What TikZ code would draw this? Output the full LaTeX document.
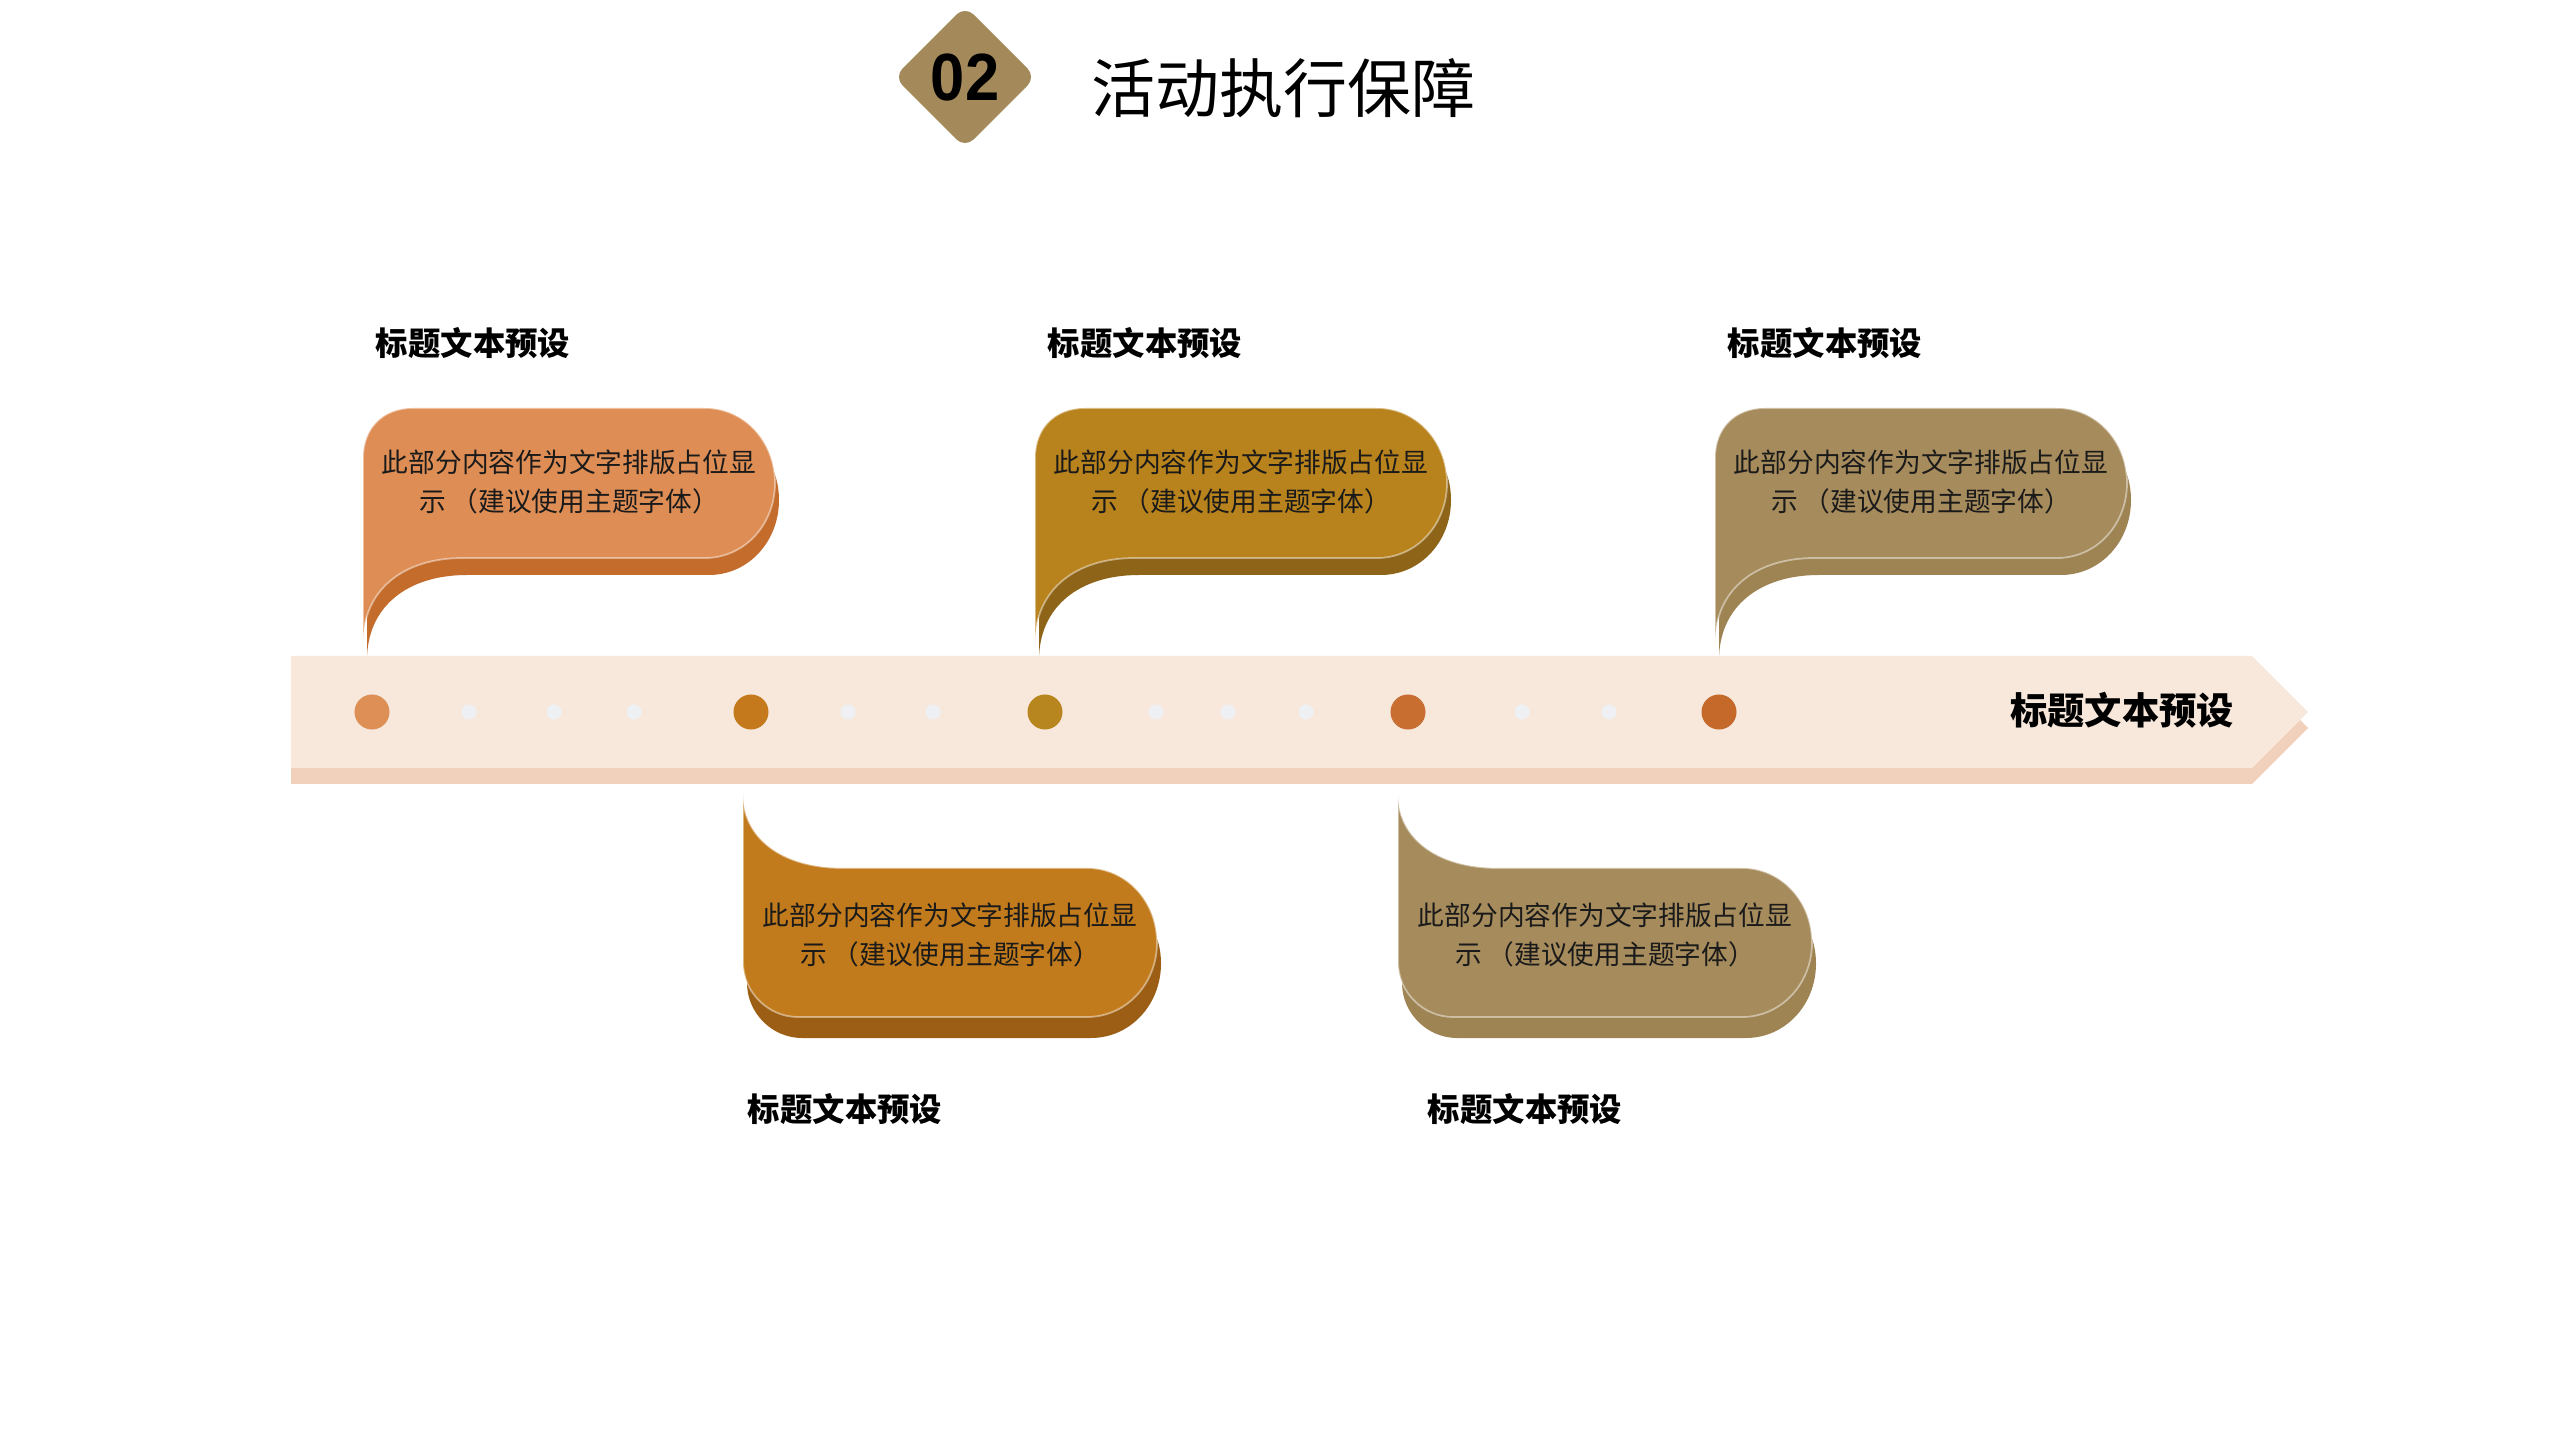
\documentclass[tikz,border=0pt]{standalone}
\usepackage{fontspec}
\newfontfamily\cjk{Noto Sans CJK SC}
\newfontfamily\latinb{Liberation Sans}
\definecolor{bandA}{HTML}{F8E8DC}
\definecolor{bandB}{HTML}{F1D1BB}
\definecolor{sdot}{HTML}{EEF0F3}
\definecolor{faceA}{HTML}{DE8E55}
\definecolor{sideA}{HTML}{C46C2C}
\definecolor{faceB}{HTML}{B8821C}
\definecolor{sideB}{HTML}{8E6418}
\definecolor{faceC}{HTML}{A68B5C}
\definecolor{sideC}{HTML}{9E8353}
\definecolor{faceD}{HTML}{C27B1C}
\definecolor{sideD}{HTML}{9C5E14}
\definecolor{dotA}{HTML}{DE8F55}
\definecolor{dotB}{HTML}{C47A1C}
\definecolor{dotC}{HTML}{B8861E}
\definecolor{dotD}{HTML}{C86E30}
\definecolor{dotE}{HTML}{C4692A}
\definecolor{dia}{HTML}{A48A5A}
\definecolor{txt}{HTML}{1A1A1A}
\tikzset{
  bubtext/.style={font=\cjk\fontsize{7.6}{11.2}\selectfont, align=center, text=txt, inner sep=0pt},
  lbl/.style={font=\cjk\bfseries\fontsize{9.2}{11}\selectfont, text=black, inner sep=0pt},
  bigdot/.style={circle, minimum size=0.35cm, inner sep=0pt},
  smalldot/.style={circle, fill=sdot, minimum size=0.15cm, inner sep=0pt},
}
\newcommand\topbubshape[1]{\path[#1] (0,643) -- (0,458) .. controls (0,428) and (20,408) .. (50,408) -- (342,408) .. controls (381,408) and (412,441) .. (412,483) .. controls (412,525) and (381,558) .. (342,558) -- (100,558) .. controls (40,558) and (0,590) .. (0,643) -- cycle;}
\newcommand\botbubshape[1]{\path[#1] (0,795) .. controls (0,835) and (35,868) .. (100,868) -- (344,868) .. controls (383,868) and (414,901) .. (414,942.5) .. controls (414,984) and (383,1017) .. (344,1017) -- (55,1017) .. controls (25,1017) and (0,992) .. (0,962) -- cycle;}
\newcommand\topbub[4]{%
  \begin{scope}[shift={(#1,0)}]
    \topbubshape{fill=#3, shift={(4,17)}}
    \topbubshape{fill=#2, draw=white, draw opacity=0.45, line width=0.5pt}
    \node[bubtext] (#4) at (206,482) {此部分内容作为文字排版占位显\\示 （建议使用主题字体）};
  \end{scope}}
\newcommand\botbub[4]{%
  \begin{scope}[shift={(#1,0)}]
    \botbubshape{fill=#3, shift={(4,21)}}
    \botbubshape{fill=#2, draw=white, draw opacity=0.45, line width=0.5pt}
    \node[bubtext] (#4) at (207,935) {此部分内容作为文字排版占位显\\示 （建议使用主题字体）};
  \end{scope}}
\begin{document}
\begin{tikzpicture}[x=0.01cm, y=-0.01cm]
\useasboundingbox (0,0) rectangle (2560,1440);
% header
\fill[dia, rounded corners=0.12cm] (965,6) -- (1036,77) -- (965,148) -- (894,77) -- cycle;
\node[font=\latinb\bfseries\fontsize{19}{20}\selectfont, text=black, inner sep=0pt, xscale=0.92] (num) at (965,78) {02};
\node[font=\cjk\fontsize{18.2}{20}\selectfont, text=black, inner sep=0pt] (title) at (1283,88) {活动执行保障};
% top bubbles
\topbub{363}{faceA}{sideA}{b1}
\topbub{1035}{faceB}{sideB}{b2}
\topbub{1715}{faceC}{sideC}{b3}
% band
\fill[bandB] (291,672) -- (2252,672) -- (2308,728) -- (2252,784) -- (291,784) -- cycle;
\fill[bandA] (291,656) -- (2252,656) -- (2308,712) -- (2252,768) -- (291,768) -- cycle;
% bottom bubbles
\botbub{743}{faceD}{sideD}{b4}
\botbub{1398}{faceC}{sideC}{b5}
% dots
\node[bigdot, fill=dotA] (d1) at (372,712) {};
\node[bigdot, fill=dotB] (d2) at (751,712) {};
\node[bigdot, fill=dotC] (d3) at (1045,712) {};
\node[bigdot, fill=dotD] (d4) at (1408,712) {};
\node[bigdot, fill=dotE] (d5) at (1719,712) {};
\node[smalldot] (s1) at (469,712) {};
\node[smalldot] (s2) at (554,712) {};
\node[smalldot] (s3) at (634,712) {};
\node[smalldot] (s4) at (848,712) {};
\node[smalldot] (s5) at (933,712) {};
\node[smalldot] (s6) at (1156,712) {};
\node[smalldot] (s7) at (1228,712) {};
\node[smalldot] (s8) at (1306,712) {};
\node[smalldot] (s9) at (1522,712) {};
\node[smalldot] (s10) at (1609,712) {};
% labels
\node[lbl] (l1) at (473,343) {标题文本预设};
\node[lbl] (l2) at (1145,343) {标题文本预设};
\node[lbl] (l3) at (1825,343) {标题文本预设};
\node[lbl] (l4) at (845,1109) {标题文本预设};
\node[lbl] (l5) at (1525,1109) {标题文本预设};
\node[lbl, font=\cjk\bfseries\fontsize{10.6}{12}\selectfont] (l6) at (2122,710) {标题文本预设};
\end{tikzpicture}
\end{document}
